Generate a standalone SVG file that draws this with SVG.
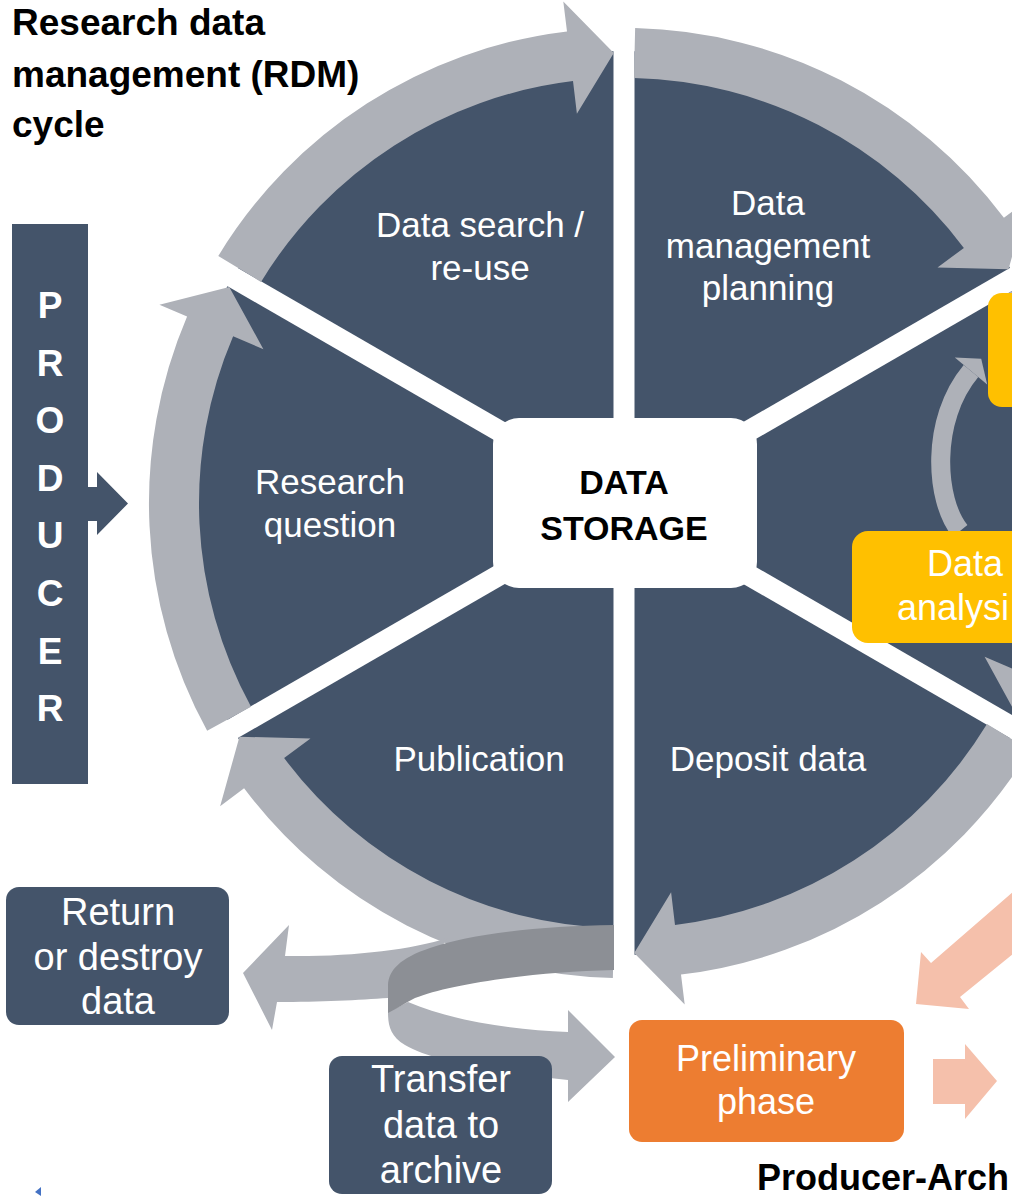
<svg xmlns="http://www.w3.org/2000/svg" width="1012" height="1196" viewBox="0 0 1012 1196">
<style>
.f{font-family:"Liberation Sans",Arial,sans-serif}
.w{fill:#fff;font-size:35px;text-anchor:middle}
.wb{fill:#fff;font-size:38px;text-anchor:middle}
.blk{fill:#000;font-weight:bold}
.navy{fill:#44546A}
.gr{fill:#AEB1B8}
.sal{fill:#F5C0AB}
</style>
<defs>
<path id="arw" d="M218.3,255.9 A475,475 0 0 1 567.0,31.4 L563.3,1.6 L613.8,53.1 L576.9,113.8 L573.0,81.1 A425,425 0 0 0 261.0,281.9 Z"/>
</defs>
<rect width="1012" height="1196" fill="#fff"/>

<g id="title" class="f blk" font-size="37">
<text x="12" y="35">Research data</text>
<text x="12" y="87">management (RDM)</text>
<text x="12" y="137">cycle</text>
</g>

<g id="cycle-disc">
<circle cx="624" cy="503" r="452" class="navy"/>
<g stroke="#fff" stroke-width="21">
<line x1="624" y1="23" x2="624" y2="983"/>
<line x1="208.3" y1="263" x2="1039.7" y2="743"/>
<line x1="208.3" y1="743" x2="1039.7" y2="263"/>
</g>
</g>

<g id="connectors">
<use href="#arw" class="gr"/>
<use href="#arw" class="gr" transform="rotate(60 624 503)"/>
<use href="#arw" class="gr" transform="rotate(120 624 503)"/>
<use href="#arw" class="gr" transform="rotate(180 624 503)"/>
<use href="#arw" class="gr" transform="rotate(240 624 503)"/>
<use href="#arw" class="gr" transform="rotate(300 624 503)"/>
<path class="gr" d="M448,938 C410,950 350,957 285,956 L289,925 L243,973 L272,1030 L277,1002 C320,1002 360,1000 388,998 L420,975 Z"/>
<path class="gr" d="M408,1002 C450,1020 510,1030 568,1032 L568,1010 L615,1057 L568,1102 L568,1080 C490,1072 430,1060 405,1045 C390,1036 388,1025 388,1012 Z"/>
<path fill="#8C8F95" d="M614,925 C540,926 470,934 430,948 C400,958 389,970 388,985 L388,1013 C398,1008 405,1003 415,998 C450,984 530,972 614,970 Z"/>
<path fill="none" stroke="#AEB1B8" stroke-width="19" d="M960,531 C935,500 930,420 971,371"/>
<polygon class="gr" points="954.8,357.6 981.2,358.7 987.2,384.4"/>
<polygon class="navy" points="88,487 97,487 97,472 128,503.5 97,535 97,521 88,521"/>
<polygon class="sal" points="1030,877 931,963 921,952 916,1004 969,1009 960,997 1030,940"/>
<polygon class="sal" points="933,1059 965,1059 965,1044 997,1081 965,1119 965,1104 933,1104"/>
</g>

<g id="data-storage">
<rect x="493" y="418" width="264" height="170" rx="26" fill="#fff"/>
<text class="f blk" font-size="34" text-anchor="middle" x="624" y="494">DATA</text>
<text class="f blk" font-size="34" text-anchor="middle" x="624" y="540">STORAGE</text>
</g>

<g id="data-search" class="f w">
<text x="480" y="237">Data search /</text>
<text x="480" y="280">re-use</text>
</g>
<g id="dmp" class="f w">
<text x="768" y="215">Data</text>
<text x="768" y="258">management</text>
<text x="768" y="300">planning</text>
</g>
<g id="research-question" class="f w">
<text x="330" y="494">Research</text>
<text x="330" y="537">question</text>
</g>
<g id="publication" class="f w">
<text x="479" y="771">Publication</text>
</g>
<g id="deposit" class="f w">
<text x="768" y="771">Deposit data</text>
</g>

<g id="yellow-top">
<rect x="988" y="293" width="80" height="114" rx="14" fill="#FFC000"/>
</g>
<g id="data-analysis">
<rect x="852" y="531" width="220" height="112" rx="16" fill="#FFC000"/>
<text class="f" fill="#fff" font-size="36" x="927" y="576">Data</text>
<text class="f" fill="#fff" font-size="36" x="897" y="620">analysi</text>
</g>

<g id="producer">
<rect x="12" y="224" width="76" height="560" class="navy"/>
<g class="f" fill="#fff" font-weight="bold" font-size="37" text-anchor="middle">
<text x="50" y="318">P</text>
<text x="50" y="375.6">R</text>
<text x="50" y="433">O</text>
<text x="50" y="490.8">D</text>
<text x="50" y="548.4">U</text>
<text x="50" y="606">C</text>
<text x="50" y="663.6">E</text>
<text x="50" y="721">R</text>
</g>
</g>

<g id="return-destroy">
<rect x="6" y="887" width="223" height="138" rx="13" class="navy"/>
<text class="f wb" x="118" y="925">Return</text>
<text class="f wb" x="118" y="970">or destroy</text>
<text class="f wb" x="118" y="1014">data</text>
</g>

<g id="transfer">
<rect x="329" y="1056" width="223" height="138" rx="13" class="navy"/>
<text class="f wb" x="441" y="1092">Transfer</text>
<text class="f wb" x="441" y="1138">data to</text>
<text class="f wb" x="441" y="1183">archive</text>
</g>

<g id="preliminary">
<rect x="629" y="1020" width="275" height="122" rx="13" fill="#ED7D31"/>
<text class="f" fill="#fff" font-size="36" text-anchor="middle" x="766" y="1071">Preliminary</text>
<text class="f" fill="#fff" font-size="36" text-anchor="middle" x="766" y="1114">phase</text>
</g>

<g id="producer-archive">
<text class="f blk" font-size="36" x="757" y="1190">Producer-Arch</text>
</g>
<polygon points="35,1192 41,1187 41,1196" fill="#4472C4"/>
</svg>
